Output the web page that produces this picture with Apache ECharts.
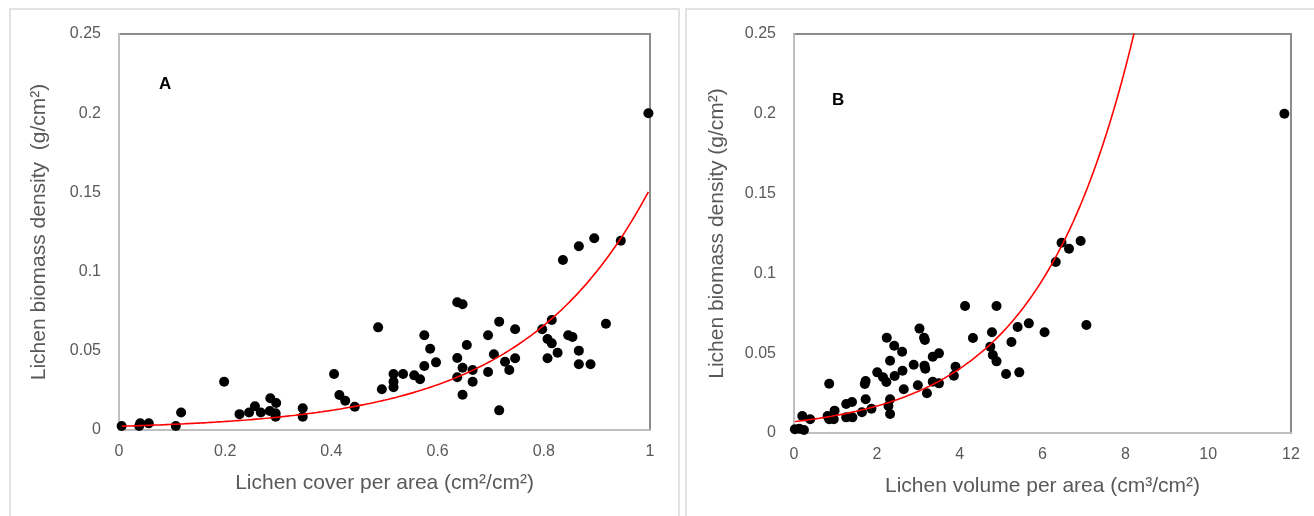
<!DOCTYPE html>
<html>
<head>
<meta charset="utf-8">
<script src="https://cdn.jsdelivr.net/npm/echarts@6/dist/echarts.min.js"></script>
<style>
  html, body { margin: 0; padding: 0; background: #fff; }
  #chart { width: 1314px; height: 516px; }
</style>
</head>
<body>
<div id="chart"></div>
<script>
// Panel A: lichen cover per area (cm²/cm²) vs. biomass density (g/cm²)
const coverA = [
  0.005, 0.038, 0.040, 0.056, 0.107, 0.117, 0.198, 0.227, 0.245, 0.256,
  0.267, 0.285, 0.296, 0.284, 0.295, 0.295, 0.346, 0.346, 0.405, 0.415,
  0.426, 0.444, 0.488, 0.495, 0.517, 0.517, 0.517, 0.535, 0.556, 0.567,
  0.575, 0.586, 0.575, 0.597, 0.637, 0.647, 0.637, 0.647, 0.637, 0.666,
  0.666, 0.647, 0.655, 0.695, 0.695, 0.706, 0.716, 0.727, 0.735, 0.746,
  0.746, 0.716, 0.797, 0.807, 0.815, 0.815, 0.807, 0.826, 0.846, 0.854,
  0.866, 0.866, 0.888, 0.836, 0.866, 0.895, 0.917, 0.945, 0.997
];
const biomassA = [
  0.0025, 0.0025, 0.0042, 0.0042, 0.0025, 0.0110, 0.0305, 0.0100, 0.0110, 0.0150,
  0.0110, 0.0200, 0.0170, 0.0120, 0.0105, 0.0084, 0.0137, 0.0084, 0.0354, 0.0221,
  0.0185, 0.0147, 0.0648, 0.0257, 0.0354, 0.0305, 0.0270, 0.0354, 0.0345, 0.0320,
  0.0598, 0.0513, 0.0404, 0.0427, 0.0806, 0.0794, 0.0455, 0.0393, 0.0333, 0.0379,
  0.0305, 0.0223, 0.0537, 0.0598, 0.0366, 0.0478, 0.0684, 0.0431, 0.0379, 0.0636,
  0.0453, 0.0124, 0.0636, 0.0574, 0.0547, 0.0694, 0.0453, 0.0488, 0.0598, 0.0587,
  0.0501, 0.0415, 0.0415, 0.1073, 0.1160, 0.1210, 0.0671, 0.1195, 0.2000
];
// Exponential trendline for panel A: y = a·e^(b·x)
const trendA = { a: 0.00233, b: 4.18 };

// Panel B: lichen volume per area (cm³/cm²) vs. biomass density (g/cm²)
const volumeB = [
  0.02, 0.13, 0.24, 0.20, 0.39, 0.85, 0.81, 0.92, 0.98, 0.85,
  0.96, 1.26, 1.40, 1.41, 1.26, 1.64, 1.71, 1.73, 1.73, 1.87,
  2.01, 2.15, 2.23, 2.24, 2.42, 2.61, 2.32, 2.43, 2.62, 2.65,
  2.32, 2.28, 2.32, 2.89, 2.99, 3.03, 3.14, 3.16, 3.15, 3.17,
  3.21, 3.35, 3.50, 3.35, 3.50, 3.86, 3.90, 4.13, 4.32, 4.78,
  4.74, 4.80, 4.89, 4.89, 5.12, 5.25, 5.40, 5.44, 5.67, 6.05,
  6.32, 6.46, 6.64, 6.92, 7.06, 11.84
];
const biomassB = [
  0.0023, 0.0027, 0.0019, 0.0107, 0.0086, 0.0309, 0.0107, 0.0098, 0.0140, 0.0086,
  0.0086, 0.0182, 0.0194, 0.0098, 0.0098, 0.0130, 0.0307, 0.0326, 0.0211, 0.0152,
  0.0380, 0.0349, 0.0320, 0.0597, 0.0547, 0.0509, 0.0453, 0.0357, 0.0390, 0.0274,
  0.0211, 0.0169, 0.0119, 0.0428, 0.0299, 0.0654, 0.0597, 0.0583, 0.0422, 0.0403,
  0.0249, 0.0478, 0.0499, 0.0321, 0.0311, 0.0359, 0.0415, 0.0796, 0.0595, 0.0631,
  0.0541, 0.0489, 0.0449, 0.0796, 0.0370, 0.0570, 0.0664, 0.0380, 0.0687, 0.0631,
  0.1071, 0.1192, 0.1155, 0.1203, 0.0677, 0.2000
];
// Exponential trendline for panel B: y = a·e^(b·x)
const trendB = { a: 0.0071, b: 0.434 };

const xTicksA = [0, 0.2, 0.4, 0.6, 0.8, 1];
const xTicksB = [0, 2, 4, 6, 8, 10, 12];
const yTicks = [0, 0.05, 0.1, 0.15, 0.2, 0.25];

// Sample the trend curve across the range of the observed x values
function trendPoints(fit, xs, steps) {
  const lo = Math.min(...xs), hi = Math.max(...xs);
  const pts = [];
  for (let i = 0; i <= steps; i++) {
    const x = lo + (hi - lo) * i / steps;
    pts.push([x, fit.a * Math.exp(fit.b * x)]);
  }
  return pts;
}

const zip = (xs, ys) => xs.map((x, i) => [x, ys[i]]);

const FONT = 'Liberation Sans, Arial, sans-serif';
const TXT = '#595959';

function xAxis(idx, ticks, name) {
  return {
    gridIndex: idx, type: 'value',
    min: ticks[0], max: ticks[ticks.length - 1], interval: ticks[1] - ticks[0],
    name, nameLocation: 'middle', nameGap: 43,
    nameTextStyle: { color: TXT, fontSize: 21, fontFamily: FONT },
    axisLine: { show: true, onZero: false, lineStyle: { color: '#bfbfbf', width: 2 } },
    axisTick: { show: false },
    axisLabel: { color: TXT, fontSize: 16, fontFamily: FONT, margin: 14 },
    splitLine: { show: false }
  };
}
function yAxis(idx, name, gap) {
  return {
    gridIndex: idx, type: 'value',
    min: yTicks[0], max: yTicks[yTicks.length - 1], interval: yTicks[1] - yTicks[0],
    name, nameLocation: 'middle', nameGap: gap,
    nameTextStyle: { color: TXT, fontSize: 21, fontFamily: FONT },
    axisLine: { show: true, onZero: false, lineStyle: { color: '#bfbfbf', width: 2 } },
    axisTick: { show: false },
    axisLabel: { color: TXT, fontSize: 16, fontFamily: FONT, margin: 18 },
    splitLine: { show: false }
  };
}

const chart = echarts.init(document.getElementById('chart'), null, { renderer: 'canvas' });
chart.setOption({
  animation: false,
  backgroundColor: '#fff',
  grid: [
    { left: 119, top: 34, width: 531, height: 396, show: true, borderColor: '#8c8c8c', borderWidth: 2, backgroundColor: 'transparent' },
    { left: 794, top: 34, width: 497, height: 399, show: true, borderColor: '#8c8c8c', borderWidth: 2, backgroundColor: 'transparent' }
  ],
  xAxis: [
    xAxis(0, xTicksA, 'Lichen cover per area (cm²/cm²)'),
    xAxis(1, xTicksB, 'Lichen volume per area (cm³/cm²)')
  ],
  yAxis: [
    yAxis(0, 'Lichen biomass density  (g/cm²)', 69),
    yAxis(1, 'Lichen biomass density (g/cm²)', 66)
  ],
  graphic: [
    { type: 'rect', shape: { x: 10, y: 9, width: 669, height: 540 }, style: { fill: 'none', stroke: '#d9d9d9', lineWidth: 1.5 }, silent: true },
    { type: 'rect', shape: { x: 686, y: 9, width: 660, height: 540 }, style: { fill: 'none', stroke: '#d9d9d9', lineWidth: 1.5 }, silent: true },
    { type: 'text', left: 159, top: 76, style: { text: 'A', fill: '#000', font: 'bold 17px ' + FONT } },
    { type: 'text', left: 832, top: 92, style: { text: 'B', fill: '#000', font: 'bold 17px ' + FONT } }
  ],
  series: [
    {
      type: 'line', xAxisIndex: 0, yAxisIndex: 0, data: trendPoints(trendA, coverA, 200),
      showSymbol: false, lineStyle: { color: '#ff0000', width: 1.6 }, z: 3
    },
    {
      type: 'scatter', xAxisIndex: 0, yAxisIndex: 0, data: zip(coverA, biomassA),
      symbolSize: 10, itemStyle: { color: '#000', opacity: 1 }, z: 2
    },
    {
      type: 'line', xAxisIndex: 1, yAxisIndex: 1, data: trendPoints(trendB, volumeB, 600),
      showSymbol: false, lineStyle: { color: '#ff0000', width: 1.6 }, z: 3
    },
    {
      type: 'scatter', xAxisIndex: 1, yAxisIndex: 1, data: zip(volumeB, biomassB),
      symbolSize: 10, itemStyle: { color: '#000', opacity: 1 }, z: 2
    }
  ]
});
</script>
</body>
</html>
